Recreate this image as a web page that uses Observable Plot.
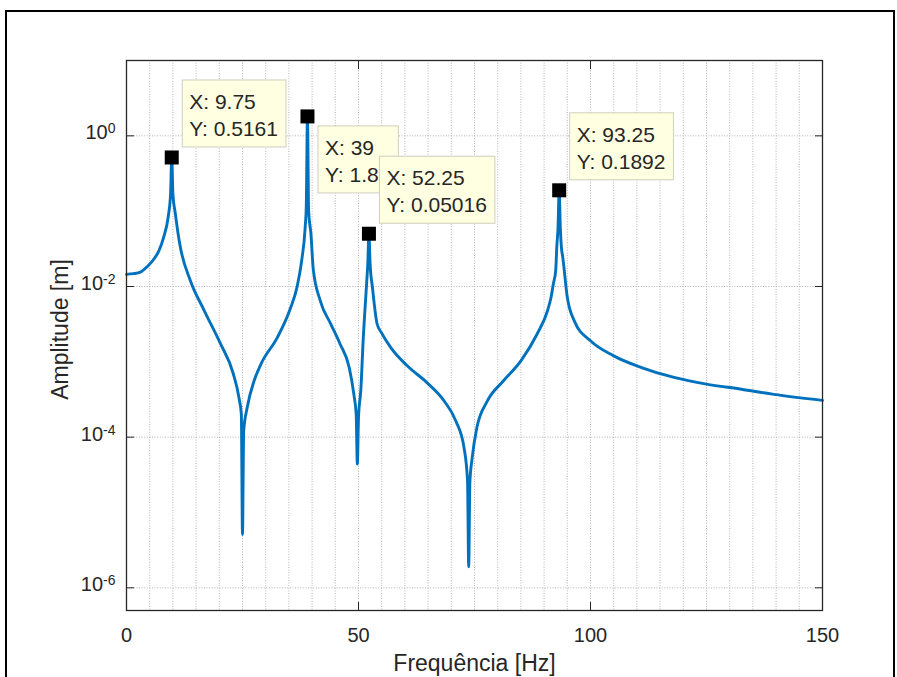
<!DOCTYPE html>
<html><head><meta charset="utf-8">
<script src="https://cdn.jsdelivr.net/npm/d3@7"></script>
<script src="https://cdn.jsdelivr.net/npm/@observablehq/plot@0.6"></script>
<style>
html,body{margin:0;padding:0;background:#fff;}
#wrap{position:relative;width:897px;height:677px;overflow:hidden;font-family:"Liberation Sans",Arial,Helvetica,sans-serif;}
#chart{position:absolute;left:0;top:0;}
#border{position:absolute;left:5px;top:10px;width:890px;height:720px;border:2px solid #000;box-sizing:border-box;pointer-events:none;}
</style></head>
<body><div id="wrap"><div id="chart"></div><div id="border"></div></div>
<script>
// Frequency [Hz]
const freq = [0,1.5,3,4.5,6,7,8,9,9.5,9.75,10,10.5,11.5,13.75,16.75,20.25,23,24.25,24.75,25,25.25,26,27.5,29,32.5,35.25,36.75,37.75,38.5,38.75,39,39.25,39.75,40.25,41.75,44,46,48,49,49.5,49.75,50,50.5,51,51.75,52,52.25,52.5,53,54,55,57,60.5,64.75,68.5,71,72.75,73.5,73.75,74,74.5,75.5,77.75,81.25,85,88.5,90.75,91.5,92,92.5,92.75,93,93.25,93.5,93.75,94,95,96.5,100,105,111,118,125,132.5,139.5,150];
// Amplitude [m]
const amp = [0.0145,0.0148,0.0155,0.0185,0.0235,0.030,0.045,0.085,0.17,0.5161,0.17,0.095,0.036,0.012,0.0048,0.00174,0.0007,0.00033,0.0002,5.1e-6,1.2e-4,2.45e-4,5.6e-4,9.4e-4,0.0021,0.005,0.0098,0.022,0.06,0.12,1.81,0.1,0.05,0.017,0.0065,0.0032,0.00174,0.00084,0.00037,0.0002,4.4e-5,1.8e-4,4.2e-4,0.0019,0.011,0.02,0.05016,0.02,0.0098,0.0032,0.0024,0.00153,0.000885,0.00053,0.0003,0.000163,7.2e-5,2.6e-5,1.9e-6,2.5e-5,5.3e-5,1.33e-4,3.0e-4,5.6e-4,0.00103,0.00234,0.0048,0.0072,0.0109,0.0163,0.035,0.06,0.1892,0.06,0.032,0.025,0.0072,0.0035,0.0019,0.0012,0.00084,0.00062,0.000505,0.000433,0.00037,0.000308];
// Data tips
const tipX = [9.75, 39, 52.25, 93.25];
const tipY = [0.5161, 1.81, 0.05016, 0.1892];
const tipYLabel = ["0.5161", "1.81", "0.05016", "0.1892"];
// Ticks
const xTicks = [0, 50, 100, 150];
const xMinorTicks = d3.range(0, 151, 5);
const yTicks = [1e-6, 1e-4, 1e-2, 1];

const xLabel = "Frequência [Hz]";
const yLabel = "Amplitude [m]";

const FONT = '"Liberation Sans", Arial, Helvetica, sans-serif';
const axisColor = "#262626";
const gridStyle = {stroke: "#b4b4b4", strokeOpacity: 1, strokeWidth: 1, strokeDasharray: "1,1.6"};
const tipBelow = [false, true, false, false];

const data = freq.map((f, i) => ({f, a: amp[i]}));
const tips = tipX.map((x, i) => ({x, y: tipY[i], label: tipYLabel[i]}));

const plot = Plot.plot({
  width: 897, height: 677,
  marginLeft: 126, marginRight: 75, marginTop: 60, marginBottom: 67,
  style: {fontFamily: FONT, color: axisColor, background: "transparent"},
  x: {domain: [0, 150]},
  y: {type: "log", domain: [5e-7, 10]},
  marks: [
    Plot.gridX({ticks: xMinorTicks, ...gridStyle}),
    Plot.gridY({ticks: yTicks, ...gridStyle}),
    Plot.line(data, {x: "f", y: "a", stroke: "#0072BD", strokeWidth: 2.9, curve: "monotone-x"}),
    Plot.dot(tips, {x: "x", y: "y", symbol: "square", r: 7.9, fill: "#000"}),
    Plot.frame({stroke: axisColor, strokeWidth: 1.3}),
    Plot.axisX({anchor: "bottom", ticks: xTicks, tickSize: 0, tickPadding: 17, fontSize: 20, label: null}),
    Plot.axisX({anchor: "bottom", ticks: xTicks, tickSize: -8, tickFormat: () => "", label: null}),
    Plot.axisX({anchor: "top", ticks: xTicks, tickSize: -8, tickFormat: () => "", label: null}),
    Plot.axisY({anchor: "left", ticks: yTicks, tickSize: 0, tickPadding: 11, fontSize: 20, dy: -3,
      tickFormat: d => "10^" + Math.round(Math.log10(d)), label: null}),
    Plot.axisY({anchor: "left", ticks: yTicks, tickSize: -8, tickFormat: () => "", label: null}),
    Plot.axisY({anchor: "right", ticks: yTicks, tickSize: -8, tickFormat: () => "", label: null}),
    Plot.text([yLabel], {text: d => d, frameAnchor: "left", dx: -66, dy: -6, rotate: -90,
      textAnchor: "middle", lineAnchor: "middle", fontSize: 23, fill: axisColor}),
    Plot.text([xLabel], {text: d => d, frameAnchor: "bottom", dy: 53,
      textAnchor: "middle", lineAnchor: "middle", fontSize: 23, fill: axisColor})
  ]
});

document.getElementById("chart").append(plot);

// superscript exponents on y tick labels
d3.select(plot).selectAll('g[aria-label="y-axis tick label"] text').each(function() {
  const m = this.textContent.match(/^10\^(.*)$/);
  if (!m) return;
  const el = d3.select(this);
  el.text("10");
  el.append("tspan").attr("dy", "-0.42em").attr("font-size", "0.7em").text(m[1]);
});

// data tips
const sx = plot.scale("x"), sy = plot.scale("y");
const layer = d3.select(plot).append("g")
  .attr("font-family", FONT).attr("font-size", 21).attr("fill", axisColor)
  .attr("text-anchor", "start");
tips.forEach((d, i) => {
  const px = sx.apply(d.x), py = sy.apply(d.y);
  const left = px + 11, top = tipBelow[i] ? py + 10 : py - 77;
  const g = layer.append("g");
  const rect = g.append("rect").attr("x", left).attr("y", top).attr("height", 67)
    .attr("fill", "#FFFFE1").attr("stroke", "#cfcfbf").attr("stroke-width", 1);
  const t1 = g.append("text").attr("x", left + 7).attr("y", top + 29).attr("text-anchor", "start").text(`X: ${d.x}`);
  const t2 = g.append("text").attr("x", left + 7).attr("y", top + 56).attr("text-anchor", "start").text(`Y: ${d.label}`);
  const w = Math.max(t1.node().getComputedTextLength(), t2.node().getComputedTextLength()) + 15;
  rect.attr("width", w);
});
</script>
</body></html>
